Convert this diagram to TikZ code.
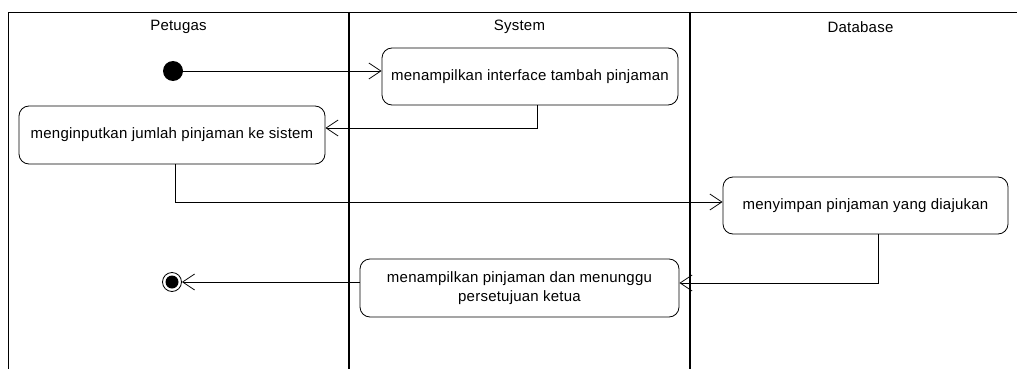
\documentclass[tikz,border=0pt]{standalone}
\usepackage{fontspec}
\setmainfont{Liberation Sans}[LetterSpace=1.5]
\usetikzlibrary{arrows.meta}

\begin{document}
\begin{tikzpicture}[x=1pt, y=-1pt,
    aktivitas/.style={draw, rounded corners=10pt, line width=0.8pt, minimum height=57pt,
        align=center, font=\fontsize{15}{19}\selectfont},
    alur/.style={line width=0.8pt, -{Straight Barb[length=12pt,width=16pt,line width=0.8pt]}},
    judul/.style={font=\fontsize{15}{19}\selectfont}]
    \useasboundingbox (0,0) rectangle (1017,369);

    % jalur (swimlane)
    \draw[line width=0.8pt] (8,369) -- (8,12) -- (1031,12);
    \draw[line width=1.6pt] (349,12) -- (349,369);
    \draw[line width=1.6pt] (690,12) -- (690,369);
    \node[judul] (petugas) at (178.5,27) {Petugas};
    \node[judul] (system) at (519.5,27) {System};
    \node[judul] (database) at (860.5,27) {Database};

    % awal dan akhir
    \node[circle, fill, inner sep=0pt, minimum size=20pt] (mulai) at (173,71) {};
    \node[circle, draw, line width=0.8pt, inner sep=0pt, minimum size=19pt] (selesai) at (172,282) {};
    \fill (selesai) circle (6.5pt);

    % aktivitas
    \node[aktivitas, minimum width=296pt] (tampil) at (530,76.5) {menampilkan interface tambah pinjaman};
    \node[aktivitas, minimum width=306pt, minimum height=58pt] (input) at (172,135) {menginputkan jumlah pinjaman ke sistem};
    \node[aktivitas, minimum width=285pt] (simpan) at (865.5,205.5) {menyimpan pinjaman yang diajukan};
    \node[aktivitas, minimum width=319pt, minimum height=58pt] (tunggu) at (519.5,288) {menampilkan pinjaman dan menunggu\\persetujuan ketua};

    % alur
    \draw[alur] (mulai) -- (mulai -| tampil.west);
    \draw[alur] ([xshift=7pt]tampil.south) |- ([yshift=7pt]input.east);
    \draw[alur] ([xshift=3pt]input.south) |- ([yshift=3.5pt]simpan.west);
    \draw[alur] ([xshift=12.5pt]simpan.south) |- ([yshift=5pt]tunggu.east);
    \draw[alur] (selesai -| tunggu.west) -- (selesai);
\end{tikzpicture}
\end{document}
